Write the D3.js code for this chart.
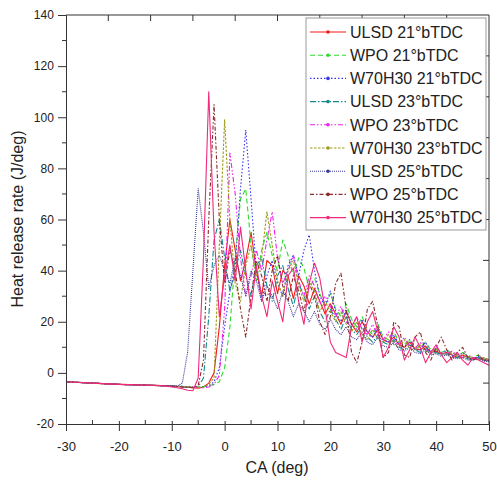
<!DOCTYPE html>
<html>
<head>
<meta charset="utf-8">
<script src="https://cdn.jsdelivr.net/npm/d3@7"></script>
<style>
  body { margin: 0; background: #fff; }
  svg { font-family: 'Liberation Sans', Arial, sans-serif; }
</style>
</head>
<body>
<svg id="chart" width="497" height="489"></svg>
<script>
// crank angle grid shared by every series
const crankAngle = [-30, -25, -20, -15].concat(d3.range(-12, 51))

const seriesNames = [
  'ULSD 21°bTDC', 'WPO 21°bTDC', 'W70H30 21°bTDC',
  'ULSD 23°bTDC', 'WPO 23°bTDC', 'W70H30 23°bTDC',
  'ULSD 25°bTDC', 'WPO 25°bTDC', 'W70H30 25°bTDC'
]

const yTicks = [-20, 0, 20, 40, 60, 80, 100, 120, 140]
const xTicks = [-30, -20, -10, 0, 10, 20, 30, 40, 50]

// values at -30,-25,-20,-15 then -12 .. 50 by 1
const ulsd21 = [-3.5, -4, -4.5, -4.8,
  -5, -5, -5.2, -5.3, -5.5, -5.6, -5.8, -6, -5.5, -4, 0, 18,
  42, 60, 48, 36, 44, 55, 40, 30, 44, 42, 31,
  40, 38, 29, 38, 34, 27, 33, 28, 23, 27,
  23, 19, 24, 19, 16, 20, 16, 14, 17, 13,
  12, 14, 11, 10, 12, 9.5, 9, 10.5, 8, 8.5,
  7.5, 8, 7, 6, 7, 6, 5.5, 6, 5, 5]
const wpo21 = [-3.5, -4, -4.5, -4.8,
  -5, -5, -5.1, -5.2, -5.3, -5.4, -5.5, -5.5, -5.3, -5, -4.5, -3.5,
  2, 18, 45, 68, 72, 50, 36, 48, 55, 46, 40,
  52, 46, 38, 45, 41, 33, 37, 31, 26, 31,
  25, 22, 27, 21, 18, 22, 17, 15, 19, 14,
  13, 16, 12, 11, 13, 10, 10, 12, 9, 9,
  8, 9, 7.5, 7, 8, 6.5, 6, 7, 5.5, 5.5]
const w70h30_21 = [-3.5, -4, -4.5, -4.8,
  -5, -5, -5.1, -5.2, -5.3, -5.4, -5.5, -5.6, -5.5, -5, -3.5, 2,
  18, 32, 42, 72, 95, 68, 40, 28, 38, 44, 35,
  30, 42, 46, 38, 48, 54, 40, 30, 26, 32,
  24, 20, 25, 19, 17, 21, 15, 14, 18, 13,
  12, 15, 11, 10, 13, 9, 9, 12, 8, 9,
  7, 9, 7, 6, 8, 6, 5.5, 6.5, 5, 5]
const ulsd23 = [-3.5, -4, -4.5, -4.8,
  -5, -5, -5.2, -5.3, -5.5, -5.6, -5.7, -5.5, -2, 22, 52, 60,
  45, 32, 40, 48, 38, 30, 42, 45, 34, 28, 38,
  42, 33, 26, 35, 30, 25, 30, 24, 20, 25,
  21, 17, 22, 17, 15, 18, 14, 12, 15, 12,
  11, 13, 10, 9, 11, 9, 8, 10, 7.5, 8,
  7, 7.5, 6.5, 6, 6.5, 5.5, 5, 6, 5, 4.5]
const wpo23 = [-3.5, -4, -4.5, -4.8,
  -5, -5, -5.1, -5.3, -5.4, -5.5, -5.6, -5.8, -5.8, -5.5, -4.5, -1,
  25, 86, 70, 45, 30, 38, 48, 40, 52, 63, 45,
  35, 40, 46, 36, 30, 38, 34, 27, 30, 26,
  22, 26, 20, 18, 22, 17, 15, 19, 14, 13,
  16, 12, 11, 14, 10, 9.5, 12, 9, 8.5, 10,
  8, 7.5, 8.5, 7, 6, 7, 6, 5.5, 6, 5]
const w70h30_23 = [-3.5, -4, -4.5, -4.8,
  -5, -5, -5.1, -5.2, -5.4, -5.5, -5.6, -5.7, -5.6, -4.5, -2, 50,
  99, 60, 35, 28, 42, 50, 38, 45, 63, 50, 36,
  30, 40, 44, 34, 28, 36, 32, 24, 28, 24,
  20, 24, 19, 16, 20, 15, 13, 17, 13, 12,
  15, 11, 10, 13, 9.5, 9, 11, 8.5, 8, 9.5,
  7.5, 7, 8, 6.5, 6, 6.5, 5.5, 5, 6, 5]
const ulsd25 = [-3.5, -4, -4.5, -4.8,
  -5, -5, -5.1, -5.2, -4, 8, 40, 72, 55, 33, 42, 46,
  40, 35, 45, 38, 30, 40, 36, 28, 34, 30, 25,
  32, 28, 22, 27, 24, 20, 24, 19, 17, 21,
  17, 15, 18, 14, 13, 16, 12, 11, 14, 10.5,
  10, 12, 9, 8.5, 10, 8, 7.5, 9, 7, 7.5,
  6.5, 7, 6, 5.5, 6, 5, 5, 5.5, 4.5, 4.5]
const wpo25 = [-3.5, -4, -4.5, -4.8,
  -5, -5, -5.2, -5.3, -5.5, -5.7, -5.8, -5, 5, 60, 105, 60,
  35, 48, 40, 25, 14, 30, 44, 38, 28, 40, 46,
  34, 28, 38, 32, 24, 35, 30, 20, 15, 22,
  35, 39, 25, 8, 4, 12, 25, 28, 18, 6,
  8, 20, 18, 7, 6, 14, 16, 8, 5, 10,
  14, 9, 5, 8, 10, 6, 5, 7, 5, 5]
const w70h30_25 = [-3.5, -4, -4.5, -4.8,
  -5, -5.2, -5.5, -5.8, -6.2, -6.8, -7, -2, 45, 110, 55, 22,
  38, 50, 36, 57, 40, 25, 42, 30, 22, 36, 28,
  20, 38, 41, 28, 19, 35, 43, 37, 25, 12,
  8, 7, 6, 18, 22, 12, 20, 24, 16, 6,
  10, 18, 14, 5, 9, 14, 10, 4, 8, 11,
  7, 4, 6, 8, 5, 3, 6, 5, 4, 3]

const seriesValues = [ulsd21, wpo21, w70h30_21, ulsd23, wpo23, w70h30_23, ulsd25, wpo25, w70h30_25]

const colors = ['#f21c1c', '#2edb2e', '#3434f0', '#138a8a', '#ee22ee', '#9c9c1c', '#3a3a9a', '#8c2a2a', '#f02a7c']
const dashes = ['none', '5,3', '1.5,2', '6,2,1.5,2', '5,2,1.5,2,1.5,2', '2.5,1.5', '1,1', '4,2,1.5,2', 'none']

const margin = { top: 15, right: 8, bottom: 65, left: 66 }
const width = 497
const height = 489

const svg = d3.select('#chart')

const x = d3.scaleLinear().domain([-30, 50]).range([margin.left, width - margin.right])
const y = d3.scaleLinear().domain([-20, 140]).range([height - margin.bottom, margin.top])

const axisColor = '#333'
const plainNum = d => String(d) // keep ASCII hyphen like the original

// clip so lines stay inside the frame
svg.append('clipPath').attr('id', 'plot-clip')
  .append('rect')
  .attr('x', x(-30)).attr('y', y(140))
  .attr('width', x(50) - x(-30)).attr('height', y(-20) - y(140))

const lineGen = d3.line()
  .x((d, i) => x(crankAngle[i]))
  .y(d => y(d))

svg.append('g')
  .attr('clip-path', 'url(#plot-clip)')
  .selectAll('path')
  .data(seriesValues)
  .join('path')
  .attr('d', lineGen)
  .attr('fill', 'none')
  .attr('stroke', (d, i) => colors[i])
  .attr('stroke-width', 1.1)
  .attr('stroke-dasharray', (d, i) => dashes[i])
  .attr('stroke-linejoin', 'round')

// bottom axis
const xAxis = svg.append('g')
  .attr('transform', `translate(0, ${y(-20)})`)
  .call(d3.axisBottom(x).tickValues(xTicks).tickSize(7).tickFormat(plainNum))
xAxis.selectAll('text').attr('font-size', 13).attr('fill', '#222').attr('dy', '1.3em')
xAxis.selectAll('line').attr('y1', -3)

// minor bottom ticks
svg.append('g').selectAll('line')
  .data(d3.range(-25, 50, 10))
  .join('line')
  .attr('x1', d => x(d)).attr('x2', d => x(d))
  .attr('y1', y(-20) - 4).attr('y2', y(-20))
  .attr('stroke', axisColor)

// left axis
const yAxis = svg.append('g')
  .attr('transform', `translate(${x(-30)}, 0)`)
  .call(d3.axisLeft(y).tickValues(yTicks).tickSize(8).tickFormat(plainNum))
yAxis.selectAll('text').attr('font-size', 12).attr('fill', '#222').attr('dx', '-0.1em')

// minor left ticks
svg.append('g').selectAll('line')
  .data(d3.range(-10, 140, 20))
  .join('line')
  .attr('x1', x(-30) - 4).attr('x2', x(-30))
  .attr('y1', d => y(d)).attr('y2', d => y(d))
  .attr('stroke', axisColor)

svg.selectAll('.domain').attr('stroke', axisColor)
svg.selectAll('.tick line').attr('stroke', axisColor)

// top and right frame with inward ticks
svg.append('line')
  .attr('x1', x(-30)).attr('x2', x(50)).attr('y1', y(140)).attr('y2', y(140))
  .attr('stroke', axisColor)
svg.append('line')
  .attr('x1', x(50)).attr('x2', x(50)).attr('y1', y(140)).attr('y2', y(-20))
  .attr('stroke', axisColor)
svg.append('g').selectAll('line')
  .data(d3.range(-22, 50, 8))
  .join('line')
  .attr('x1', d => x(d)).attr('x2', d => x(d))
  .attr('y1', y(140)).attr('y2', y(140) + 6)
  .attr('stroke', axisColor)
svg.append('g').selectAll('line')
  .data(d3.range(-4, 140, 16))
  .join('line')
  .attr('x1', x(50) - 6).attr('x2', x(50))
  .attr('y1', d => y(d)).attr('y2', d => y(d))
  .attr('stroke', axisColor)

// axis titles
svg.append('text')
  .text('CA (deg)')
  .attr('x', 277).attr('y', 473)
  .attr('text-anchor', 'middle')
  .attr('font-size', 16).attr('fill', '#222')

svg.append('text')
  .text('Heat release rate (J/deg)')
  .attr('transform', 'translate(23, 219) rotate(-90)')
  .attr('text-anchor', 'middle')
  .attr('font-size', 16).attr('fill', '#222')

// legend
const legend = svg.append('g').attr('transform', 'translate(306, 18)')
legend.append('rect')
  .attr('width', 180).attr('height', 212)
  .attr('fill', '#fff')
  .attr('stroke', '#999')

const rowH = 23.2
const rows = legend.selectAll('g.row')
  .data(seriesNames)
  .join('g')
  .attr('class', 'row')
  .attr('transform', (d, i) => `translate(0, ${14 + i * rowH})`)

rows.append('line')
  .attr('x1', 4).attr('x2', 40)
  .attr('stroke', (d, i) => colors[i])
  .attr('stroke-width', 1.1)
  .attr('stroke-dasharray', (d, i) => dashes[i])
rows.append('circle')
  .attr('cx', 22).attr('r', 1.8)
  .attr('fill', (d, i) => colors[i])
rows.append('text')
  .text(d => d)
  .attr('x', 44)
  .attr('dy', '0.36em')
  .attr('font-size', 16)
  .attr('fill', '#222')
</script>
</body>
</html>
